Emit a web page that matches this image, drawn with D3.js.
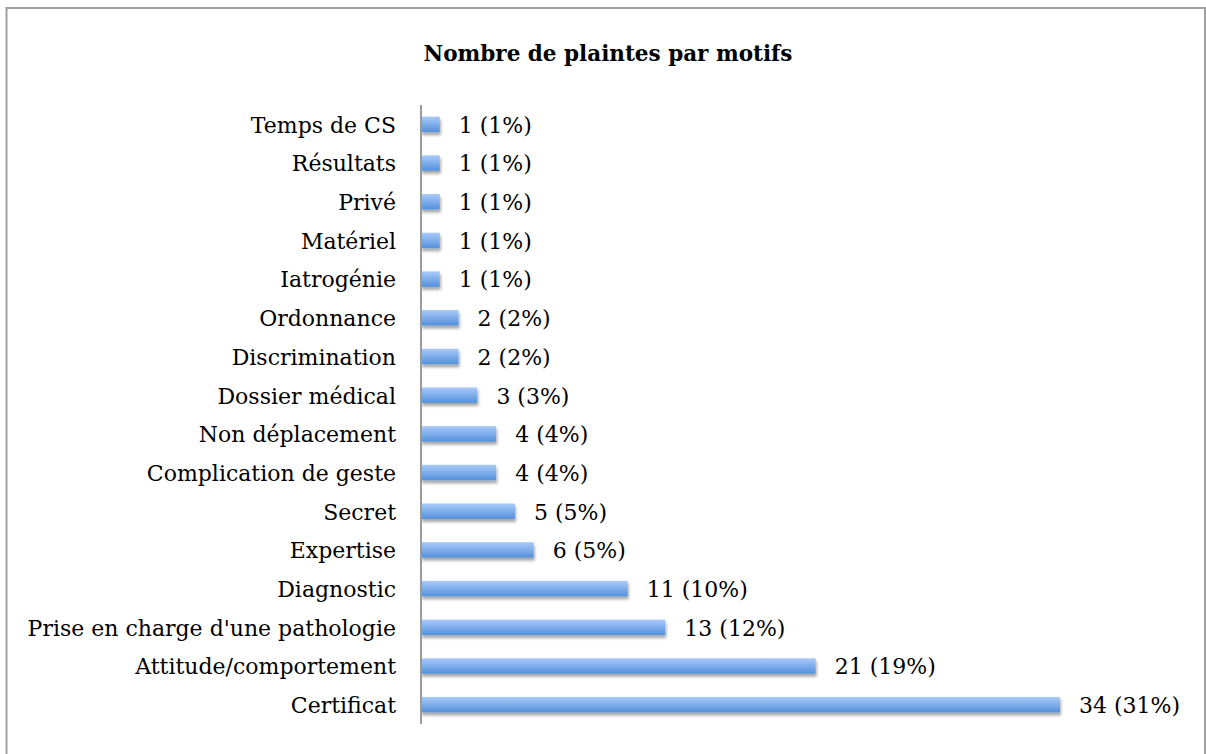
<!DOCTYPE html>
<html>
<head>
<meta charset="utf-8">
<script src="https://cdn.jsdelivr.net/npm/d3@7"></script>
<style>
  html, body { margin: 0; padding: 0; background: #fff; }
  svg { display: block; }
</style>
</head>
<body>
<svg id="chart" width="1206" height="754"></svg>
<script>
const title = "Nombre de plaintes par motifs";
const categories = [
  "Temps de CS", "Résultats", "Privé", "Matériel", "Iatrogénie",
  "Ordonnance", "Discrimination", "Dossier médical", "Non déplacement",
  "Complication de geste", "Secret", "Expertise", "Diagnostic",
  "Prise en charge d'une pathologie", "Attitude/comportement", "Certificat"
];
const counts = [1, 1, 1, 1, 1, 2, 2, 3, 4, 4, 5, 6, 11, 13, 21, 34];
const percents = [1, 1, 1, 1, 1, 2, 2, 3, 4, 4, 5, 5, 10, 12, 19, 31];

const svg = d3.select("#chart");
const axisX = 421;
const labelFont = "'DejaVu Serif', serif";
const labelSize = 22;

const defs = svg.append("defs");
const grad = defs.append("linearGradient").attr("id", "barGrad")
  .attr("x1", 0).attr("y1", 0).attr("x2", 0).attr("y2", 1);
grad.append("stop").attr("offset", "0%").attr("stop-color", "#aacbf9");
grad.append("stop").attr("offset", "100%").attr("stop-color", "#5390dc");
const f = defs.append("filter").attr("id", "shadow")
  .attr("x", "-10%").attr("y", "-50%").attr("width", "130%").attr("height", "250%");
f.append("feDropShadow").attr("dx", 1).attr("dy", 3).attr("stdDeviation", 1.6)
  .attr("flood-color", "#000").attr("flood-opacity", 0.35);

svg.append("rect").attr("x", 6.5).attr("y", 8).attr("width", 1198.5).attr("height", 760)
  .attr("fill", "none").attr("stroke", "#a0a0a0").attr("stroke-width", 2);

svg.append("text").attr("x", 608).attr("y", 61)
  .attr("text-anchor", "middle")
  .attr("font-family", labelFont).attr("font-weight", "bold")
  .attr("font-size", 21.5).attr("fill", "#000")
  .text(title);

const x = d3.scaleLinear().domain([0, 34]).range([axisX, 1060]);
const y = d3.scaleBand().domain(categories).range([105, 724]).paddingInner(0.6).paddingOuter(0.3);

svg.append("g").selectAll("rect").data(categories).join("rect")
  .attr("x", axisX)
  .attr("y", d => y(d))
  .attr("width", (d, i) => x(counts[i]) - x(0))
  .attr("height", y.bandwidth())
  .attr("fill", "url(#barGrad)")
  .attr("filter", "url(#shadow)");

const yAxis = d3.axisLeft(y).tickSize(0).tickPadding(25);
const gy = svg.append("g").attr("transform", `translate(${axisX},0)`).call(yAxis);
gy.select(".domain").attr("stroke", "#9a9a9a").attr("stroke-width", 2)
  .attr("d", "M0,105V724");
gy.selectAll("text").attr("font-family", labelFont).attr("font-size", labelSize)
  .attr("fill", "#000").attr("dy", "0.38em");

svg.append("g").selectAll("text").data(categories).join("text")
  .attr("x", (d, i) => x(counts[i]) + 19)
  .attr("y", d => y(d) + y.bandwidth() / 2)
  .attr("dy", "0.38em")
  .attr("font-family", labelFont).attr("font-size", labelSize).attr("fill", "#000")
  .text((d, i) => `${counts[i]} (${percents[i]}%)`);
</script>
</body>
</html>
